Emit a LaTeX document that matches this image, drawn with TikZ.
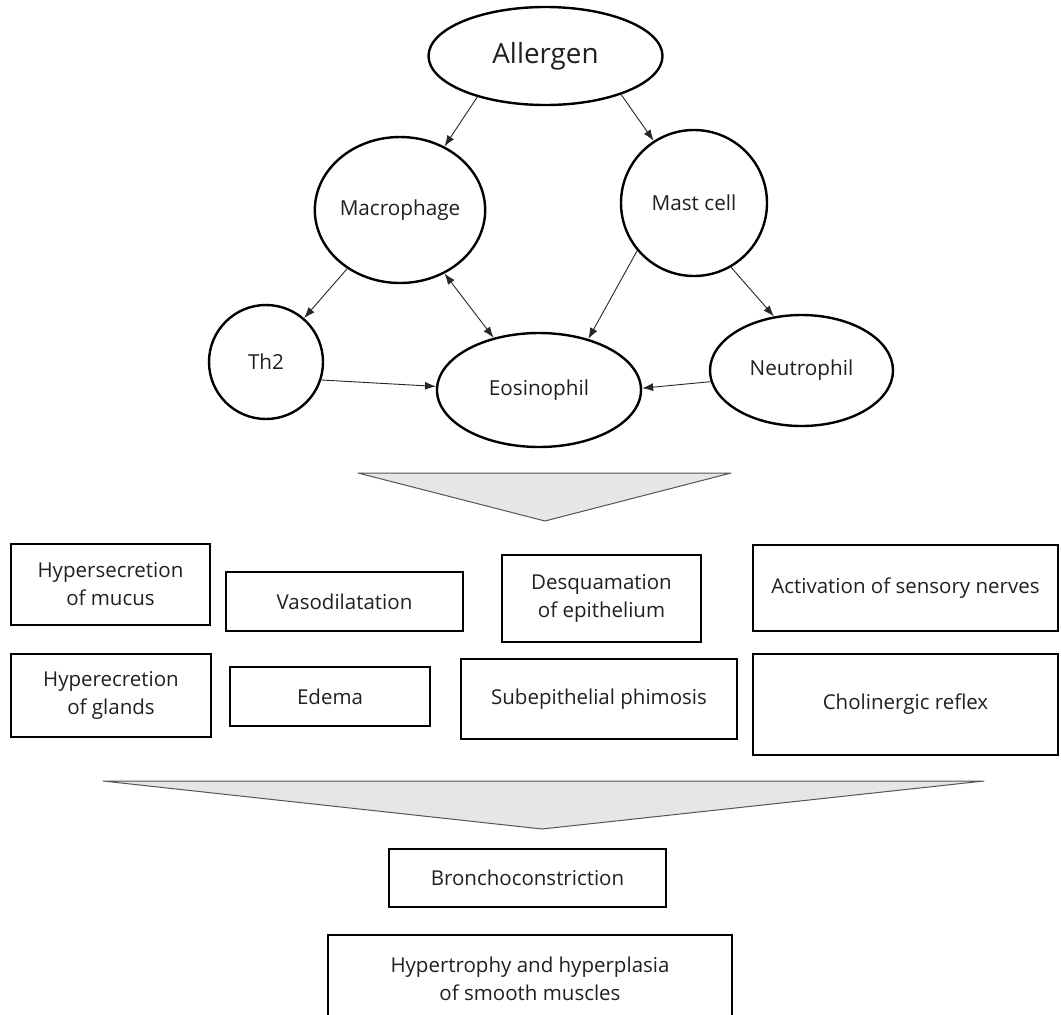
\documentclass[tikz,border=0pt]{standalone}
\usepackage{fontspec}
\setmainfont{Open Sans}
\usetikzlibrary{shapes.geometric,arrows.meta}
\definecolor{txt}{HTML}{231F20}
\definecolor{trifill}{HTML}{E6E6E6}
\definecolor{tristroke}{HTML}{555555}
\tikzset{
  cell/.style={ellipse,draw=black,line width=2.4pt,inner sep=0pt,text=txt,font=\fontsize{20.7}{24}\selectfont},
  fx/.style={rectangle,draw=black,line width=2.4pt,inner sep=0pt,align=center,text=txt,font=\fontsize{20.5}{28}\selectfont},
  arr/.style={line width=0.9pt,draw=black!85,-{Latex[length=11pt,width=8pt]}},
  darr/.style={line width=0.9pt,draw=black!85,{Latex[length=11pt,width=8pt]}-{Latex[length=11pt,width=8pt]}},
  funnel/.style={fill=trifill,draw=tristroke,line width=1pt,line join=round}
}
\begin{document}
\begin{tikzpicture}[x=1pt,y=-1pt]
\useasboundingbox (0,0) rectangle (1061,1015);
\clip (0,0) rectangle (1061,1015);
\fill[white] (0,0) rectangle (1061,1015);
% cells
\node[cell,minimum width=234pt,minimum height=98pt,font=\fontsize{27.8}{32}\selectfont] (allergen) at (545.5,56) {Allergen};
\node[cell,minimum width=146pt,minimum height=146pt] (macro) at (400,210) {Macrophage};
\node[cell,minimum width=146pt,minimum height=146pt] (mast) at (694,203) {Mast cell};
\node[cell,minimum width=114pt,minimum height=114pt] (th2) at (266,362) {Th2};
\node[cell,minimum width=204pt,minimum height=114pt] (eos) at (539,390) {Eosinophil};
\node[cell,minimum width=183pt,minimum height=111pt] (neut) at (801.5,370.5) {Neutrophil};
% connectors
\draw[arr] (allergen.211) -- (macro.55.7);
\draw[arr] (allergen.333.3) -- (mast.123.9);
\draw[arr] (macro.228.2) -- (th2.49.1);
\draw[darr] (macro.305.4) -- (eos.131);
\draw[arr] (mast.220.2) -- (eos.46.1);
\draw[arr] (mast.300.3) -- (neut.117.6);
\draw[arr] (th2.342.5) -- (eos.178.3);
\draw[arr] (neut.187.2) -- (eos.1.7);
% funnels
\path[funnel] (358,473) -- (731,473) -- (545,521) -- cycle;
\path[funnel] (103,781) -- (984,781) -- (542,829) -- cycle;
% effect boxes
\node[fx,minimum width=199pt,minimum height=81pt] (hyps) at (110.5,584.5) {Hypersecretion\\of mucus};
\node[fx,minimum width=237pt,minimum height=59pt] (vaso) at (344.5,601.5) {Vasodilatation};
\node[fx,minimum width=199pt,minimum height=87pt] (desq) at (601.5,598.5) {Desquamation\\of epithelium};
\node[fx,minimum width=305pt,minimum height=86pt] (actv) at (905.5,588) {Activation of sensory nerves};
\node[fx,minimum width=200pt,minimum height=83pt] (hypc) at (111,695.5) {Hyperecretion\\of glands};
\node[fx,minimum width=200pt,minimum height=59pt] (edema) at (330,696.5) {Edema};
\node[fx,minimum width=276pt,minimum height=80pt] (subep) at (599,699) {Subepithelial phimosis};
\node[fx,minimum width=305pt,minimum height=101pt] (chol) at (905.5,704.5) {Cholinergic reflex};
\node[fx,minimum width=277pt,minimum height=58pt] (bron) at (527.5,878) {Bronchoconstriction};
\node[fx,minimum width=404pt,minimum height=88pt] (hyper) at (530,979) {Hypertrophy and hyperplasia\\of smooth muscles};
\end{tikzpicture}
\end{document}
